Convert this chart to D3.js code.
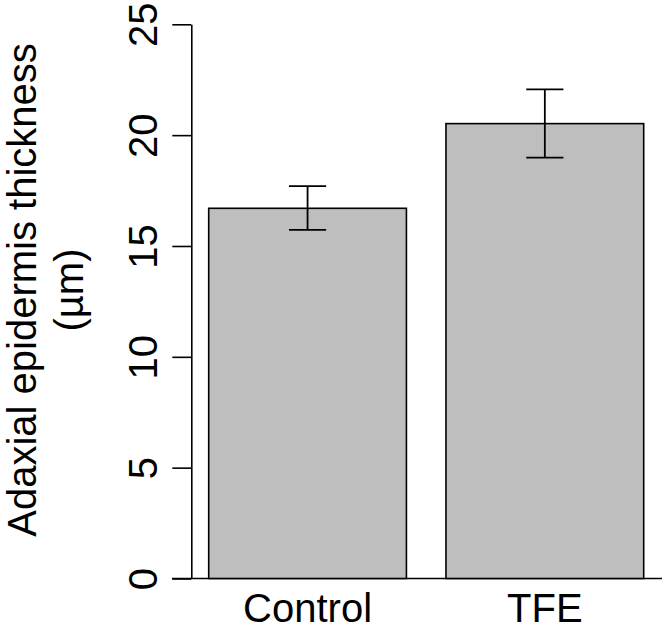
<!DOCTYPE html>
<html>
<head>
<meta charset="utf-8">
<script src="https://cdn.jsdelivr.net/npm/d3@7"></script>
<style>
  html, body { margin: 0; padding: 0; background: #fff; overflow: hidden; }
  svg { display: block; }
  text { font-family: "Liberation Sans", Arial, Helvetica, sans-serif; fill: #000; }
</style>
</head>
<body>
<script>
const categories = ["Control", "TFE"];
const means = [16.70, 20.52];
const upper = [17.70, 22.06];
const lower = [15.73, 18.99];
const yTicks = [0, 5, 10, 15, 20, 25];
const yLabelLines = ["Adaxial epidermis thickness", "(µm)"];

const W = 667, H = 631;
const svg = d3.select("body").append("svg").attr("width", W).attr("height", H);

const y = d3.scaleLinear().domain([0, 25]).range([578.5, 24.3]);
const x = d3.scaleBand().domain(categories).range([208.7, 643.7])
  .paddingInner(0.2 / 1.2).paddingOuter(0);

const fs = 40;

// baseline line
svg.append("line")
  .attr("x1", 172).attr("x2", 662)
  .attr("y1", y(0)).attr("y2", y(0))
  .attr("stroke", "#000").attr("stroke-width", 1.6);

// bars
svg.selectAll("rect.bar").data(categories).join("rect")
  .attr("class", "bar")
  .attr("x", d => x(d))
  .attr("width", x.bandwidth())
  .attr("y", (d, i) => y(means[i]))
  .attr("height", (d, i) => y(0) - y(means[i]))
  .attr("fill", "#bebebe")
  .attr("stroke", "#000")
  .attr("stroke-width", 1.6);

// error bars
const capHalf = x.bandwidth() * 0.094;
const eb = svg.selectAll("g.err").data(categories).join("g").attr("class", "err")
  .attr("stroke", "#000").attr("stroke-width", 1.8);
eb.append("line")
  .attr("x1", d => x(d) + x.bandwidth() / 2).attr("x2", d => x(d) + x.bandwidth() / 2)
  .attr("y1", (d, i) => y(upper[i])).attr("y2", (d, i) => y(lower[i]));
eb.append("line")
  .attr("x1", d => x(d) + x.bandwidth() / 2 - capHalf).attr("x2", d => x(d) + x.bandwidth() / 2 + capHalf)
  .attr("y1", (d, i) => y(upper[i])).attr("y2", (d, i) => y(upper[i]));
eb.append("line")
  .attr("x1", d => x(d) + x.bandwidth() / 2 - capHalf).attr("x2", d => x(d) + x.bandwidth() / 2 + capHalf)
  .attr("y1", (d, i) => y(lower[i])).attr("y2", (d, i) => y(lower[i]));

// y axis
const yAxis = d3.axisLeft(y).tickValues(yTicks).tickSize(19).tickSizeOuter(0).tickFormat(d3.format("d"));
const gy = svg.append("g").attr("transform", "translate(191.3,0)").call(yAxis);
gy.select(".domain").attr("stroke", "#000").attr("stroke-width", 1.6);
gy.selectAll(".tick line").attr("stroke", "#000").attr("stroke-width", 1.6);
gy.selectAll(".tick text")
  .attr("font-size", fs)
  .attr("font-family", "Liberation Sans, Arial, sans-serif")
  .attr("text-anchor", "middle")
  .attr("dy", null)
  .attr("x", null)
  .attr("transform", "translate(-34.5,0) rotate(-90)");

// x labels
svg.selectAll("text.xl").data(categories).join("text")
  .attr("class", "xl")
  .attr("x", d => x(d) + x.bandwidth() / 2)
  .attr("y", 622)
  .attr("text-anchor", "middle")
  .attr("font-size", fs)
  .text(d => d);

// y title
const yc = 290;
svg.selectAll("text.yt").data(yLabelLines).join("text")
  .attr("class", "yt")
  .attr("transform", (d, i) => `translate(${36 + i * 47},${yc}) rotate(-90)`)
  .attr("text-anchor", "middle")
  .attr("font-size", fs)
  .text(d => d);
</script>
</body>
</html>
